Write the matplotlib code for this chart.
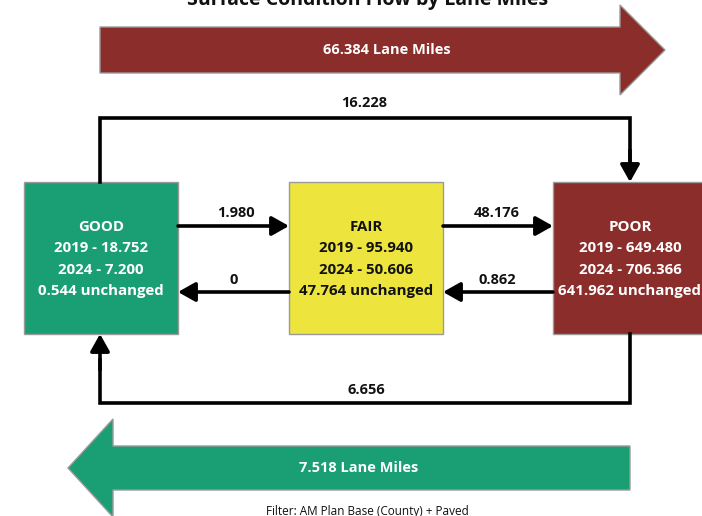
import matplotlib
matplotlib.use("Agg")
import matplotlib.pyplot as plt
from matplotlib.patches import Rectangle, FancyArrow, FancyArrowPatch

plt.rcParams["font.family"] = ["Open Sans", "DejaVu Sans"]

# data
status = ["GOOD", "FAIR", "POOR"]
miles_2019 = [18.752, 95.940, 649.480]
miles_2024 = [7.200, 50.606, 706.366]
unchanged = [0.544, 47.764, 641.962]
good_to_fair, fair_to_good = 1.980, 0
fair_to_poor, poor_to_fair = 48.176, 0.862
good_to_poor, poor_to_good = 16.228, 6.656
worsened, improved = 66.384, 7.518

GREEN = "#1A9E74"
YELLOW = "#EDE43E"
RED = "#8B2D2A"
box_colors = [GREEN, YELLOW, RED]
text_colors = ["white", "#111111", "white"]
box_left = [24, 289, 553]
box_w = 154
box_top, box_bot = 182, 334

fig = plt.figure(figsize=(7.02, 5.16), dpi=100)
ax = fig.add_axes([0, 0, 1, 1])
ax.set_xlim(0, 702)
ax.set_ylim(516, 0)
ax.axis("off")

ax.text(368, 0, "Surface Condition Flow by Lane Miles", ha="center", va="center",
        fontsize=14, fontweight="bold", color="#111111")

# big summary arrows
ax.add_patch(FancyArrow(100, 50, 565, 0, width=46, head_width=90, head_length=45,
                        length_includes_head=True, facecolor=RED, edgecolor="#9a9a9a",
                        linewidth=1))
ax.text(387, 50, f"{worsened:.3f} Lane Miles", ha="center", va="center",
        fontsize=10.5, fontweight="bold", color="white")
ax.add_patch(FancyArrow(630, 468, -562, 0, width=44, head_width=98, head_length=45,
                        length_includes_head=True, facecolor=GREEN, edgecolor="#9a9a9a",
                        linewidth=1))
ax.text(359, 468, f"{improved:.3f} Lane Miles", ha="center", va="center",
        fontsize=10.5, fontweight="bold", color="white")

# boxes
for i, name in enumerate(status):
    x0 = box_left[i]
    ax.add_patch(Rectangle((x0, box_top), box_w, box_bot - box_top,
                           facecolor=box_colors[i], edgecolor="#9a9a9a", linewidth=1))
    cx = x0 + box_w / 2
    lines = [name, f"2019 - {miles_2019[i]:.3f}", f"2024 - {miles_2024[i]:.3f}",
             f"{unchanged[i]:.3f} unchanged"]
    for j, s in enumerate(lines):
        ax.text(cx, 227 + j * 21.5, s, ha="center", va="center", fontsize=10.8,
                fontweight="bold", color=text_colors[i])

LW = 2.6
ARROW = "-|>,head_length=0.8,head_width=0.45"


def arrow(p0, p1):
    ax.add_patch(FancyArrowPatch(p0, p1, arrowstyle=ARROW, mutation_scale=13,
                                 color="black", linewidth=LW, shrinkA=0, shrinkB=0))


def label(x, y, v):
    s = f"{v:.3f}" if v else "0"
    ax.text(x, y, s, ha="center", va="center", fontsize=10.5, fontweight="bold",
            color="#111111")


g_r, f_l = box_left[0] + box_w, box_left[1]
f_r, p_l = box_left[1] + box_w, box_left[2]
arrow((g_r, 226), (f_l, 226))
arrow((f_l, 292), (g_r, 292))
arrow((f_r, 226), (p_l, 226))
arrow((p_l, 292), (f_r, 292))
label(236, 213, good_to_fair)
label(234, 280, fair_to_good)
label(497, 213, fair_to_poor)
label(497, 280, poor_to_fair)

# loops
ax.plot([100, 100, 630, 630], [box_top, 118, 118, 160], color="black", lw=LW,
        solid_joinstyle="miter")
arrow((630, 150), (630, box_top))
label(364, 103, good_to_poor)
ax.plot([630, 630, 100, 100], [box_bot, 403, 403, 360], color="black", lw=LW,
        solid_joinstyle="miter")
arrow((100, 370), (100, box_bot))
label(366, 390, poor_to_good)

ax.text(367, 512, "Filter: AM Plan Base (County) + Paved", ha="center", va="center",
        fontsize=8.5, color="#111111")

fig.savefig("out.png", dpi=100)
